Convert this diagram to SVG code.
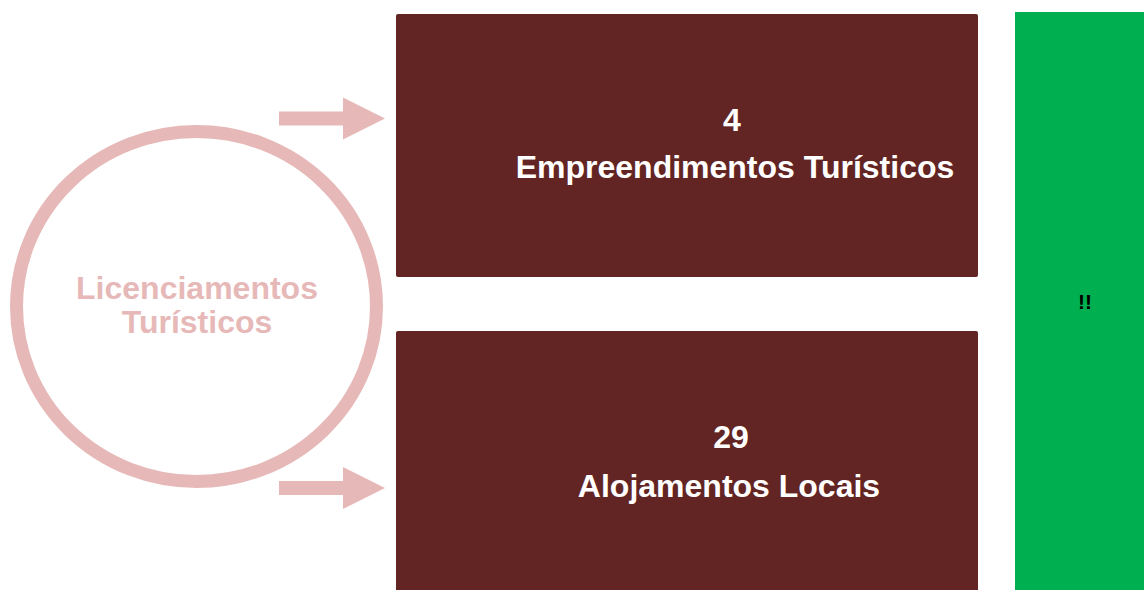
<svg xmlns="http://www.w3.org/2000/svg" width="1144" height="590" viewBox="0 0 1144 590">
  <style>
    .box { fill: #632523; }
    .arrow { fill: #E6B9B8; }
    .lbl { font-family: "Liberation Sans", Arial, sans-serif; font-weight: bold; font-size: 32px; fill: #FFFFFF; text-anchor: middle; }
    .circ { font-family: "Liberation Sans", Arial, sans-serif; font-weight: bold; font-size: 32px; fill: #E6B9B8; text-anchor: middle; }
  </style>
  <defs>
    <path id="arr" d="M 0 -7 L 64 -7 L 64 -21 L 106 0 L 64 21 L 64 7 L 0 7 Z"/>
  </defs>
  <rect width="1144" height="590" fill="#FFFFFF"/>
  <g id="licenciamentos">
    <ellipse cx="196.5" cy="306.5" rx="180" ry="175" fill="none" stroke="#E6B9B8" stroke-width="13"/>
    <text class="circ" x="197" y="299">Licenciamentos</text>
    <text class="circ" x="197" y="333">Turísticos</text>
  </g>
  <g id="connectors">
    <use href="#arr" class="arrow" transform="translate(279,118.5)"/>
    <use href="#arr" class="arrow" transform="translate(279,488)"/>
  </g>
  <g id="empreendimentos">
    <rect class="box" x="396" y="14" width="582" height="263" rx="2"/>
    <text class="lbl" x="732" y="131">4</text>
    <text class="lbl" x="735" y="178">Empreendimentos Turísticos</text>
  </g>
  <g id="alojamentos">
    <rect class="box" x="396" y="331" width="582" height="270" rx="2"/>
    <text class="lbl" x="731" y="448">29</text>
    <text class="lbl" x="729" y="497">Alojamentos Locais</text>
  </g>
  <g id="aviso">
    <rect x="1015" y="12" width="140" height="590" fill="#00B050"/>
    <text x="1085" y="309" font-family="Liberation Sans, Arial, sans-serif" font-weight="bold" font-size="21" fill="#000000" text-anchor="middle">!!</text>
  </g>
</svg>
